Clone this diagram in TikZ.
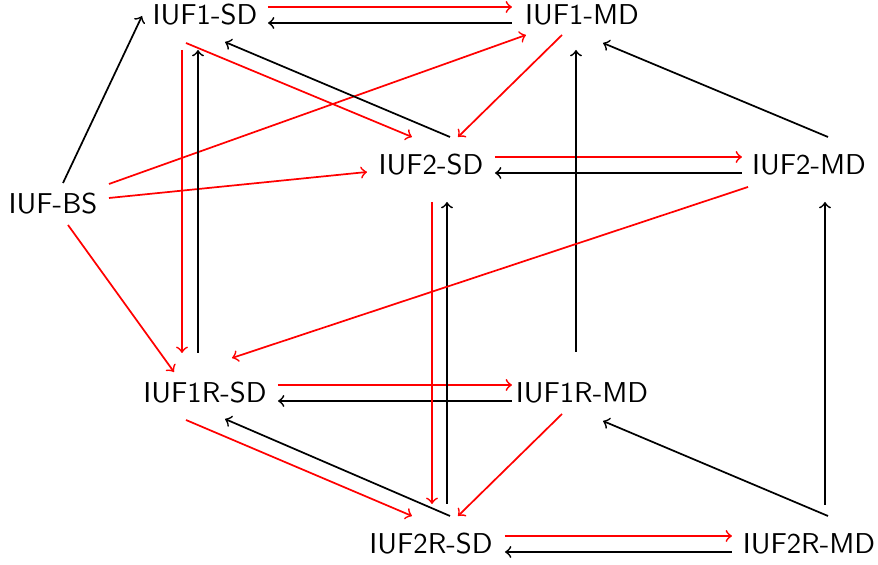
\documentclass[tikz,border=0pt]{standalone}
\begin{document}
\begin{tikzpicture}[x=0.3484pt,y=-0.3484pt,
  lbl/.style={font=\sffamily},
  redarr/.style={->,red,line width=0.6pt},
  blkarr/.style={->,black,line width=0.6pt}]
\useasboundingbox (0,0) rectangle (878,565);
\node[lbl] (bs)  at (53,204)  {IUF-BS};
\node[lbl] (s1)  at (205,15)  {IUF1-SD};
\node[lbl] (m1)  at (582,15)  {IUF1-MD};
\node[lbl] (s2)  at (431,165) {IUF2-SD};
\node[lbl] (m2)  at (809,165) {IUF2-MD};
\node[lbl] (r1s) at (205,393) {IUF1R-SD};
\node[lbl] (r1m) at (582,393) {IUF1R-MD};
\node[lbl] (r2s) at (431,544) {IUF2R-SD};
\node[lbl] (r2m) at (809,544) {IUF2R-MD};
% horizontal pairs
\draw[redarr] ([shift={(63,-8)}]s1.center) -- ([shift={(-70,-8)}]m1.center);
\draw[blkarr] ([shift={(-70,8)}]m1.center) -- ([shift={(63,8)}]s1.center);
\draw[redarr] ([shift={(64,-8)}]s2.center) -- ([shift={(-67,-8)}]m2.center);
\draw[blkarr] ([shift={(-67,8)}]m2.center) -- ([shift={(64,8)}]s2.center);
\draw[redarr] ([shift={(73,-8)}]r1s.center) -- ([shift={(-70,-8)}]r1m.center);
\draw[blkarr] ([shift={(-70,8)}]r1m.center) -- ([shift={(73,8)}]r1s.center);
\draw[redarr] ([shift={(74,-8)}]r2s.center) -- ([shift={(-77,-8)}]r2m.center);
\draw[blkarr] ([shift={(-77,8)}]r2m.center) -- ([shift={(74,8)}]r2s.center);
% from IUF-BS
\draw[blkarr] ([shift={(10,-21)}]bs.center) -- ([shift={(-63,1)}]s1.center);
\draw[redarr] ([shift={(56,-20)}]bs.center) -- ([shift={(-56,20)}]m1.center);
\draw[redarr] ([shift={(56,-6)}]bs.center) -- ([shift={(-64,7)}]s2.center);
\draw[redarr] ([shift={(15,21)}]bs.center) -- ([shift={(-31,-21)}]r1s.center);
% diagonals top
\draw[redarr] ([shift={(-19,28)}]s1.center) -- ([shift={(-19,-28)}]s2.center);
\draw[blkarr] ([shift={(19,-28)}]s2.center) -- ([shift={(20,27)}]s1.center);
\draw[redarr] ([shift={(-20,20)}]m1.center) -- ([shift={(27,-28)}]s2.center);
\draw[blkarr] ([shift={(19,-28)}]m2.center) -- ([shift={(21,28)}]m1.center);
% verticals
\draw[redarr] ([shift={(-23,35)}]s1.center) -- ([shift={(-23,-40)}]r1s.center);
\draw[blkarr] ([shift={(-7,-40)}]r1s.center) -- ([shift={(-7,35)}]s1.center);
\draw[redarr] ([shift={(1,37)}]s2.center) -- ([shift={(1,-40)}]r2s.center);
\draw[blkarr] ([shift={(16,-40)}]r2s.center) -- ([shift={(16,37)}]s2.center);
\draw[blkarr] ([shift={(-6,-41)}]r1m.center) -- ([shift={(-6,35)}]m1.center);
\draw[blkarr] ([shift={(16,-39)}]r2m.center) -- ([shift={(16,37)}]m2.center);
% long diagonal
\draw[redarr] ([shift={(-61,22)}]m2.center) -- ([shift={(27,-35)}]r1s.center);
% diagonals bottom
\draw[redarr] ([shift={(-19,27)}]r1s.center) -- ([shift={(-19,-28)}]r2s.center);
\draw[blkarr] ([shift={(19,-28)}]r2s.center) -- ([shift={(20,26)}]r1s.center);
\draw[redarr] ([shift={(-20,21)}]r1m.center) -- ([shift={(27,-28)}]r2s.center);
\draw[blkarr] ([shift={(19,-28)}]r2m.center) -- ([shift={(21,28)}]r1m.center);
\end{tikzpicture}
\end{document}
